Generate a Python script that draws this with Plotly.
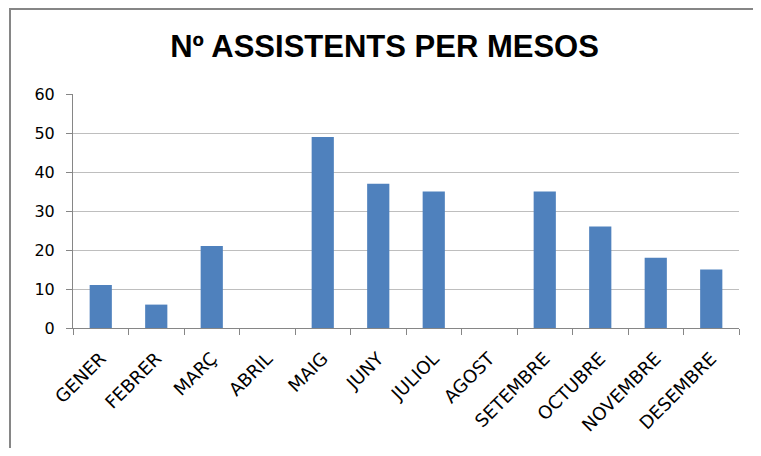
import plotly.graph_objects as go

months = ["GENER", "FEBRER", "MARÇ", "ABRIL", "MAIG", "JUNY", "JULIOL",
          "AGOST", "SETEMBRE", "OCTUBRE", "NOVEMBRE", "DESEMBRE"]
assistents = [11, 6, 21, 0, 49, 37, 35, 0, 35, 26, 18, 15]
y_ticks = [0, 10, 20, 30, 40, 50, 60]
title_text = "Nº ASSISTENTS PER MESOS"

# page body has an 8px margin, so the figure is placed at (8, 8)
OFF = 8
W, H = 761 - OFF, 456 - 2 * OFF
L, R, T, B = 73 - OFF, 739 - OFF, 94 - OFF, 328 - OFF

fig = go.Figure(go.Bar(x=months, y=assistents, marker=dict(color="#4F81BD", line=dict(width=0))))

pw, ph = R - L, B - T
def px(x):
    return (x - OFF - L) / pw
def py(y):
    return (B - (y - OFF)) / ph

fig.update_layout(
    width=W, height=H,
    margin=dict(l=L, r=W - R, t=T, b=H - B, pad=0, autoexpand=False),
    paper_bgcolor="white", plot_bgcolor="white",
    bargap=0.6,
    showlegend=False,
    title=dict(text="<b>" + title_text + "</b>", xref="container", yref="container",
               x=(384.5 - OFF) / W, y=1 - (46 - OFF) / H, xanchor="center", yanchor="middle",
               font=dict(family="Liberation Sans", size=31, color="#000000")),
    shapes=[dict(type="rect", xref="paper", yref="paper",
                 x0=px(10), x1=px(759), y0=py(480), y1=py(9),
                 line=dict(color="#868686", width=2), fillcolor="rgba(0,0,0,0)", layer="below")],
)
fig.update_xaxes(
    type="category", showline=True, linecolor="#868686", linewidth=1,
    ticks="outside", tickson="boundaries", ticklen=6, tickcolor="#868686",
    ticklabelstandoff=12,
    tickangle=-45, tickfont=dict(family="DejaVu Sans", size=18, color="#000000"),
    showgrid=False, fixedrange=True,
)
fig.update_yaxes(
    range=[0, 60], tickvals=y_ticks, showline=True, linecolor="#868686", linewidth=1,
    ticks="outside", ticklen=6, tickcolor="#868686", ticklabelstandoff=8,
    tickfont=dict(family="DejaVu Sans", size=16, color="#000000"),
    showgrid=True, gridcolor="#BEBEBE", gridwidth=1, zeroline=False, fixedrange=True,
)
fig.write_html("out.html")
